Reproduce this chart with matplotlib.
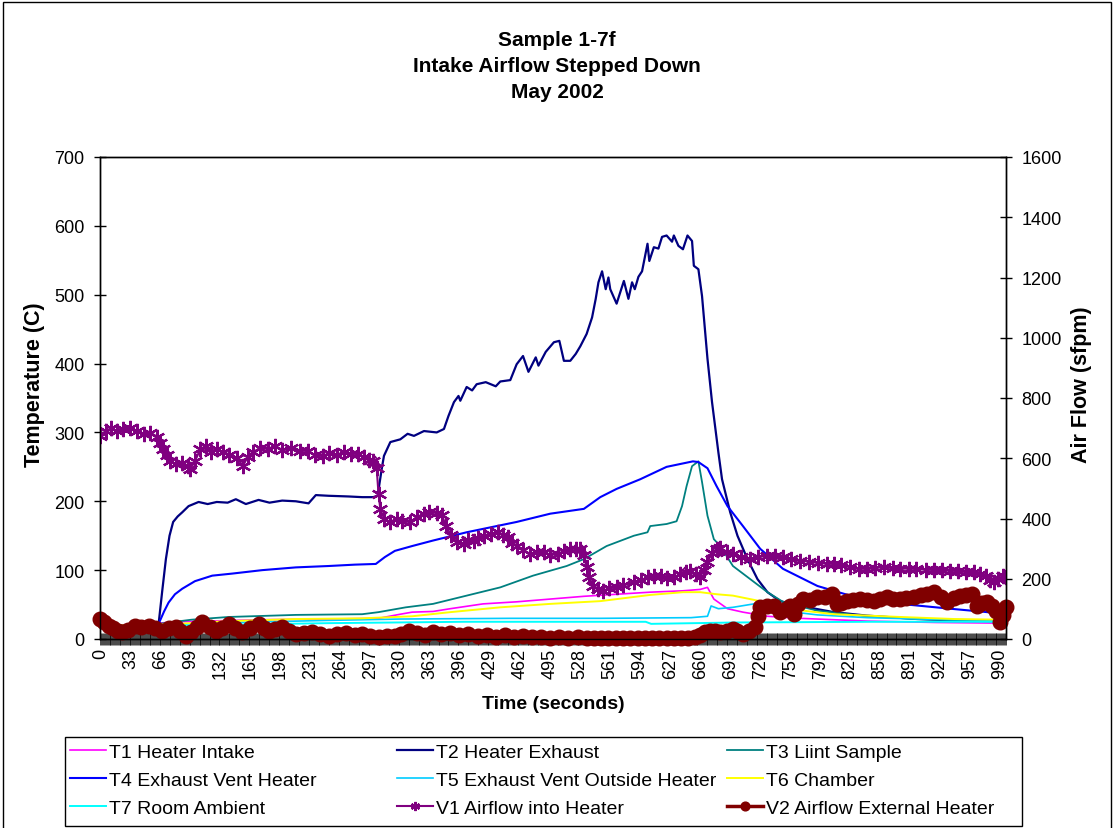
import matplotlib
matplotlib.use("Agg")
import matplotlib.pyplot as plt
from matplotlib.patches import Rectangle
from matplotlib.ticker import MultipleLocator

plt.rcParams['font.family'] = ['Liberation Sans', 'DejaVu Sans']

# ---- data (time in seconds) ----
t1_t = [0, 40, 86, 178, 251, 306, 330, 343, 366, 385,
        421, 458, 495, 532, 568, 605, 641, 660, 668, 675,
        690, 707, 734, 770, 844, 920, 996]
t1 = [20, 21, 25, 28, 29, 30, 36, 39, 40, 44,
      51, 54, 58, 62, 65, 68, 70, 72, 75, 58,
      44, 39, 33, 30, 26, 24, 23]

t2_t = [0, 30, 60, 64, 68, 72, 76, 80, 85, 90,
        97, 108, 118, 128, 140, 149, 160, 174, 186, 200,
        215, 229, 237, 251, 273, 288, 300, 305, 310, 312,
        319, 330, 338, 345, 356, 370, 378, 383, 389, 394,
        396, 403, 409, 414, 424, 435, 440, 451, 458, 465,
        471, 479, 482, 490, 499, 505, 510, 517, 523, 528,
        535, 541, 545, 548, 552, 556, 559, 561, 568, 576,
        581, 585, 588, 592, 596, 602, 604, 609, 614, 618,
        623, 629, 631, 636, 641, 646, 651, 653, 658, 662,
        668, 673, 680, 684, 693, 701, 712, 723, 734, 748,
        770, 807, 843, 899, 940, 983, 996]
t2 = [20, 20, 21, 22, 70, 116, 150, 170, 178, 184,
      193, 199, 196, 199, 198, 203, 196, 202, 198, 201,
      200, 197, 209, 208, 207, 206, 206, 208, 251, 266,
      286, 290, 298, 295, 302, 300, 305, 324, 344, 353,
      346, 366, 361, 370, 373, 367, 374, 376, 399, 411,
      388, 409, 397, 417, 431, 433, 404, 404, 414, 425,
      443, 467, 494, 518, 534, 508, 525, 508, 487, 520,
      494, 518, 508, 526, 534, 574, 549, 569, 567, 584,
      586, 577, 586, 571, 566, 586, 578, 542, 537, 498,
      407, 344, 271, 232, 184, 150, 116, 87, 68, 55,
      48, 39, 34, 29, 27, 26, 25]

t3_t = [0, 40, 64, 100, 141, 215, 288, 306, 336, 366,
        403, 440, 476, 513, 532, 557, 587, 602, 605, 623,
        634, 640, 645, 651, 658, 662, 668, 675, 682, 696,
        715, 734, 751, 789, 844, 900, 950, 996]
t3 = [20, 20, 22, 28, 32, 35, 36, 39, 46, 51,
      63, 75, 92, 106, 116, 135, 150, 155, 164, 167,
      171, 193, 222, 251, 258, 228, 179, 145, 135, 106,
      87, 68, 54, 41, 33, 29, 27, 26]

t4_t = [0, 40, 64, 70, 75, 82, 90, 104, 123, 145,
        178, 215, 251, 280, 303, 313, 324, 343, 366, 403,
        458, 495, 532, 550, 568, 594, 623, 652, 658, 668,
        678, 690, 707, 726, 751, 789, 825, 880, 935, 976,
        996]
t4 = [20, 20, 22, 40, 53, 65, 73, 84, 92, 95,
      100, 104, 106, 108, 109, 119, 128, 135, 143, 155,
      170, 182, 189, 206, 218, 232, 250, 258, 257, 248,
      222, 193, 164, 131, 102, 77, 63, 51, 44, 39,
      37]

t5_t = [0, 64, 150, 250, 330, 450, 550, 650, 668, 672,
        680, 696, 719, 751, 789, 844, 900, 996]
t5 = [19, 21, 24, 27, 29, 30, 30, 31, 33, 48,
      44, 46, 51, 41, 35, 31, 29, 27]

t6_t = [0, 40, 86, 141, 215, 288, 343, 385, 440, 495,
        550, 605, 641, 660, 678, 696, 726, 755, 807, 880,
        940, 996]
t6 = [20, 20, 22, 26, 29, 30, 33, 39, 46, 51,
      55, 64, 68, 68, 65, 63, 55, 44, 36, 32,
      29, 28]

t7_t = [0, 100, 250, 400, 600, 606, 700, 850, 996]
t7 = [18, 20, 23, 25, 25, 22, 24, 25, 25]

v1_t = [0, 6, 12, 18, 25, 32, 40, 48, 55, 62,
        66, 69, 73, 77, 83, 90, 96, 99, 104, 110,
        116, 122, 128, 135, 142, 150, 157, 162, 168, 176,
        184, 192, 200, 210, 220, 228, 236, 245, 252, 260,
        268, 276, 283, 290, 296, 300, 304, 306, 308, 312,
        319, 326, 332, 341, 348, 356, 362, 370, 376, 380,
        386, 392, 400, 405, 411, 416, 422, 430, 437, 443,
        448, 453, 458, 465, 473, 480, 488, 495, 503, 510,
        517, 523, 528, 532, 535, 538, 542, 548, 553, 560,
        568, 575, 587, 595, 602, 609, 617, 624, 631, 638,
        644, 649, 655, 660, 664, 668, 673, 678, 682, 689,
        696, 705, 715, 724, 734, 742, 751, 760, 770, 780,
        790, 800, 807, 815, 825, 835, 843, 852, 862, 872,
        880, 890, 898, 908, 917, 926, 935, 944, 953, 961,
        968, 975, 979, 983, 988, 993, 996]
v1 = [674, 690, 700, 690, 697, 700, 692, 680, 685, 672,
      650, 631, 610, 591, 580, 585, 575, 565, 590, 631,
      640, 620, 630, 621, 612, 600, 575, 605, 620, 635,
      631, 640, 628, 633, 625, 624, 610, 607, 618, 612,
      620, 615, 614, 605, 595, 591, 566, 481, 431, 400,
      388, 400, 392, 388, 405, 415, 422, 418, 410, 376,
      345, 322, 315, 330, 326, 335, 343, 350, 354, 345,
      337, 320, 310, 295, 282, 290, 288, 280, 282, 292,
      299, 300, 299, 280, 240, 205, 177, 165, 160, 168,
      172, 178, 188, 195, 205, 210, 208, 203, 205, 215,
      222, 227, 215, 205, 230, 255, 285, 299, 302, 290,
      282, 272, 266, 272, 276, 274, 271, 265, 260, 257,
      252, 250, 249, 245, 240, 234, 232, 236, 238, 235,
      233, 234, 232, 230, 229, 228, 227, 225, 222, 221,
      215, 210, 195, 188, 200, 210, 205]

v2_t = [0, 4, 9, 14, 19, 24, 30, 38, 45, 53,
        60, 68, 75, 83, 88, 94, 100, 106, 112, 120,
        127, 134, 141, 148, 156, 165, 174, 180, 185, 192,
        200, 207, 215, 224, 233, 242, 251, 260, 270, 280,
        288, 297, 306, 315, 324, 331, 339, 348, 357, 366,
        375, 385, 395, 405, 415, 425, 435, 445, 455, 465,
        475, 485, 495, 505, 515, 525, 535, 543, 551, 559,
        567, 575, 583, 591, 599, 607, 615, 623, 631, 639,
        647, 654, 660, 665, 671, 676, 682, 689, 696, 701,
        707, 714, 720, 724, 726, 733, 741, 748, 754, 759,
        763, 768, 773, 781, 789, 797, 805, 810, 815, 821,
        828, 836, 843, 851, 858, 865, 872, 880, 887, 895,
        903, 910, 917, 925, 932, 939, 946, 952, 959, 965,
        970, 976, 981, 986, 990, 993, 996]
v2 = [66, 55, 44, 35, 28, 22, 30, 44, 40, 44,
      35, 28, 35, 39, 25, 11, 22, 40, 55, 40,
      28, 38, 50, 35, 22, 35, 50, 38, 28, 33,
      39, 28, 17, 20, 22, 15, 11, 16, 20, 14,
      17, 10, 6, 9, 11, 18, 28, 20, 12, 22,
      15, 20, 12, 16, 10, 14, 8, 12, 6, 10,
      5, 8, 4, 6, 3, 5, 3, 2, 3, 2,
      3, 2, 4, 2, 3, 2, 3, 2, 3, 2,
      3, 5, 12, 22, 28, 25, 22, 28, 33, 25,
      17, 28, 39, 77, 105, 108, 111, 88, 100, 111,
      83, 115, 133, 130, 138, 140, 149, 116, 120, 127,
      130, 133, 128, 127, 132, 138, 134, 133, 135, 138,
      145, 150, 155, 140, 122, 135, 144, 146, 149, 111,
      118, 122, 110, 94, 55, 80, 105]

x_labels = list(range(0, 991, 33))

W, H = 1114, 829
fig = plt.figure(figsize=(W / 100, H / 100), dpi=100)
ax = fig.add_axes([100 / W, 1 - 640 / H, 906 / W, 482 / H])
ax2 = ax.twinx()

h1, = ax.plot(t1_t, t1, color='#FF00FF', lw=1.2, label='T1 Heater Intake')
h2, = ax.plot(t2_t, t2, color='#000080', lw=1.6, label='T2 Heater Exhaust')
h3, = ax.plot(t3_t, t3, color='#008080', lw=1.3, label='T3 Liint Sample')
h4, = ax.plot(t4_t, t4, color='#0000FF', lw=1.5, label='T4 Exhaust Vent Heater')
h5, = ax.plot(t5_t, t5, color='#00CCFF', lw=1.2, label='T5 Exhaust Vent Outside Heater')
h6, = ax.plot(t6_t, t6, color='#FFFF00', lw=1.4, label='T6 Chamber')
h7, = ax.plot(t7_t, t7, color='#00FFFF', lw=1.4, label='T7 Room Ambient')
h8, = ax2.plot(v1_t, v1, color='#800080', lw=1.5, marker=(6, 2, 0), ms=11, mew=1.6,
               label='V1 Airflow into Heater')
h9, = ax2.plot(v2_t, v2, color='#800000', lw=2.5, marker='o', ms=10.5, clip_on=False,
               label='V2 Airflow External Heater')

ax.set_xlim(-0.5, 996.5)
ax.set_ylim(0, 700)
ax2.set_ylim(0, 1600)
ax.set_yticks(range(0, 701, 100))
ax2.set_yticks(range(0, 1601, 200))
ax.set_xticks(x_labels)
ax.set_xticklabels([str(v) for v in x_labels], rotation=90)
ax.xaxis.set_minor_locator(MultipleLocator(1))
ax.tick_params(axis='x', which='both', direction='inout', length=9, width=0.5, labelsize=13, pad=2)
ax.tick_params(axis='y', direction='inout', length=8, width=1, labelsize=13, pad=7)
ax2.tick_params(axis='y', direction='inout', length=8, width=1, labelsize=13, pad=7)
for a in (ax, ax2):
    for s in a.spines.values():
        s.set_color('black')
        s.set_linewidth(1)

# titles and axis labels
for y, txt in [(40, 'Sample 1-7f'), (67, 'Intake Airflow Stepped Down'), (93, 'May 2002')]:
    fig.text(0.5, 1 - y / H, txt, ha='center', va='center', fontsize=15, fontweight='bold')
fig.text(35 / W, 1 - 385 / H, 'Temperature (C)', rotation=90, ha='center', va='center',
         fontsize=15.5, fontweight='bold')
fig.text(1082 / W, 1 - 385 / H, 'Air Flow (sfpm)', rotation=90, ha='center', va='center',
         fontsize=15.5, fontweight='bold')
fig.text(553 / W, 1 - 705 / H, 'Time (seconds)', ha='center', va='center',
         fontsize=14, fontweight='bold')

# legend: box (y 738..827 px) plus three columns
fig.add_artist(Rectangle((65 / W, 2 / H), 957 / W, 89 / H, transform=fig.transFigure,
                         fill=False, edgecolor='black', lw=1))
columns = [([h1, h4, h7], 70), ([h2, h5, h8], 397), ([h3, h6, h9], 727)]
for handles, x in columns:
    fig.legend(handles=handles, loc='upper left', bbox_to_anchor=(x / W, 1 - 744 / H),
               frameon=False, fontsize=14, handlelength=1.85, handletextpad=0.15,
               labelspacing=0.55, borderpad=0, borderaxespad=0, markerscale=0.6)

# outer chart border
fig.add_artist(Rectangle((3 / W, -0.01), 1108 / W, 1.01 - 3 / H, transform=fig.transFigure,
                         fill=False, edgecolor='black', lw=1))

fig.savefig('out.png', dpi=100)
